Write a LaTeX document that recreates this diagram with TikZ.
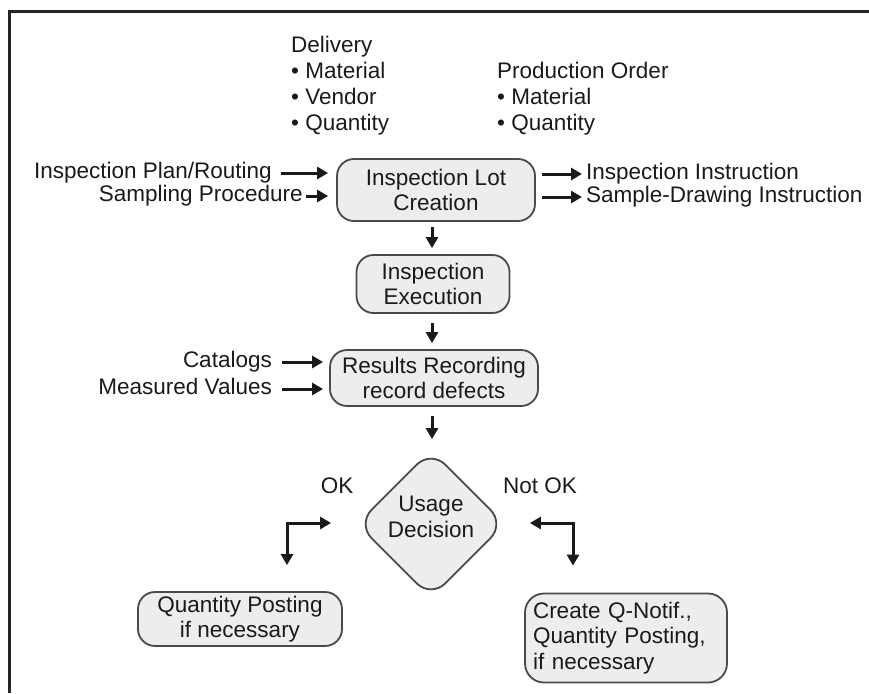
\documentclass[tikz,border=0pt]{standalone}
\usepackage{fontspec}
\setmainfont{Liberation Sans}
\usetikzlibrary{shapes.geometric,arrows.meta}
\definecolor{ink}{HTML}{1A1A1A}
\definecolor{frame}{HTML}{2A2428}
\definecolor{boxline}{HTML}{4A4A4A}
\definecolor{boxfill}{HTML}{EDEDED}
\begin{document}
\begin{tikzpicture}[x=1pt,y=-1pt,
  every node/.style={font=\fontsize{22.5pt}{25.5pt}\selectfont, text=ink},
  box/.style={draw=boxline, line width=1.8pt, fill=boxfill, rounded corners=17pt,
    align=center, inner sep=0pt},
  lbl/.style={inner sep=0pt, text height=16pt, text depth=5pt},
  arr/.style={draw=ink, line width=3pt, -{Triangle[length=11pt,width=12pt]}},
  arrboth/.style={draw=ink, line width=3pt,
    {Triangle[length=11pt,width=12pt]}-{Triangle[length=11pt,width=12pt]}},
  ]
\useasboundingbox (0,0) rectangle (869,693);

% frame
\draw[frame, line width=3pt] (9,693) -- (9,12) -- (869,12);

% trigger objects
\node[inner sep=0pt, anchor=north west, align=left,
  font=\fontsize{22.5pt}{26pt}\selectfont] (deliv) at (291,36)
  {Delivery\\• Material\\• Vendor\\• Quantity};
\node[inner sep=0pt, anchor=north west, align=left,
  font=\fontsize{22.5pt}{26pt}\selectfont] (prodord) at (497,62)
  {Production Order\\• Material\\• Quantity};

% process steps
\node[box, minimum width=198pt, minimum height=62pt] (lot) at (436,190)
  {Inspection Lot\\Creation};
\node[box, minimum width=153pt, minimum height=58pt] (exec) at (433,284)
  {Inspection\\Execution};
\node[box, minimum width=208pt, minimum height=56pt] (rec) at (434,378)
  {Results Recording\\record defects};
\node[diamond, draw=boxline, line width=1.8pt, fill=boxfill, rounded corners=20pt,
  minimum width=148pt, minimum height=148pt, inner sep=0pt] (ud) at (431,524) {};
\node[align=center, inner sep=0pt] (udtext) at (431,517) {Usage\\Decision};
\node[box, minimum width=204pt, minimum height=54pt] (qp) at (240,619)
  {Quantity Posting\\if necessary};
\node[box, rounded corners=19pt, text width=186pt, align=left, minimum width=202pt,
  minimum height=89pt] (qn) at (626,638)
  {Create Q-Notif.,\\Quantity Posting,\\if necessary};

% inputs and outputs
\node[lbl, anchor=east] (plan) at (272,173) {Inspection Plan/Routing};
\node[lbl, anchor=east] (samp) at (303,196) {Sampling Procedure};
\node[lbl, anchor=west] (instr) at (586,174) {Inspection Instruction};
\node[lbl, anchor=west] (sdi) at (586,197) {Sample-Drawing Instruction};
\node[lbl, anchor=east] (cat) at (272,362) {Catalogs};
\node[lbl, anchor=east] (meas) at (272,389) {Measured Values};
\node[lbl] (ok) at (337,488) {OK};
\node[lbl] (nok) at (540,488) {Not OK};

\draw[arr, shorten <=9pt, shorten >=8pt] (plan.east) -- (plan.east -| lot.west);
\draw[arr, shorten <=3pt, shorten >=8pt] (samp.east) -- (samp.east -| lot.west);
\draw[arr, shorten <=6pt, shorten >=4pt] (instr.west -| lot.east) -- (instr.west);
\draw[arr, shorten <=6pt, shorten >=4pt] (sdi.west -| lot.east) -- (sdi.west);
\draw[arr, shorten <=10pt, shorten >=6pt] (cat.east) -- (cat.east -| rec.west);
\draw[arr, shorten <=10pt, shorten >=6pt] (meas.east) -- (meas.east -| rec.west);

\draw[arr, shorten <=5pt, shorten >=6pt] (lot.south -| 432,0) -- (exec.north -| 432,0);
\draw[arr, shorten <=9pt, shorten >=6pt] (exec.south -| 432,0) -- (rec.north -| 432,0);
\draw[arr, shorten <=9pt, shorten >=10pt] (rec.south -| 432,0) -- (ud.north -| 432,0);

% usage decision branches
\coordinate (okbend) at (287,523);
\coordinate (nokbend) at (573,523);
\draw[arrboth, shorten >=26pt] ([xshift=-25pt]ud.west |- okbend) -- (okbend) -- (okbend |- qp.north);
\draw[arrboth, shorten >=27pt] ([xshift=24pt]ud.east |- nokbend) -- (nokbend) -- (nokbend |- qn.north);
\end{tikzpicture}
\end{document}
